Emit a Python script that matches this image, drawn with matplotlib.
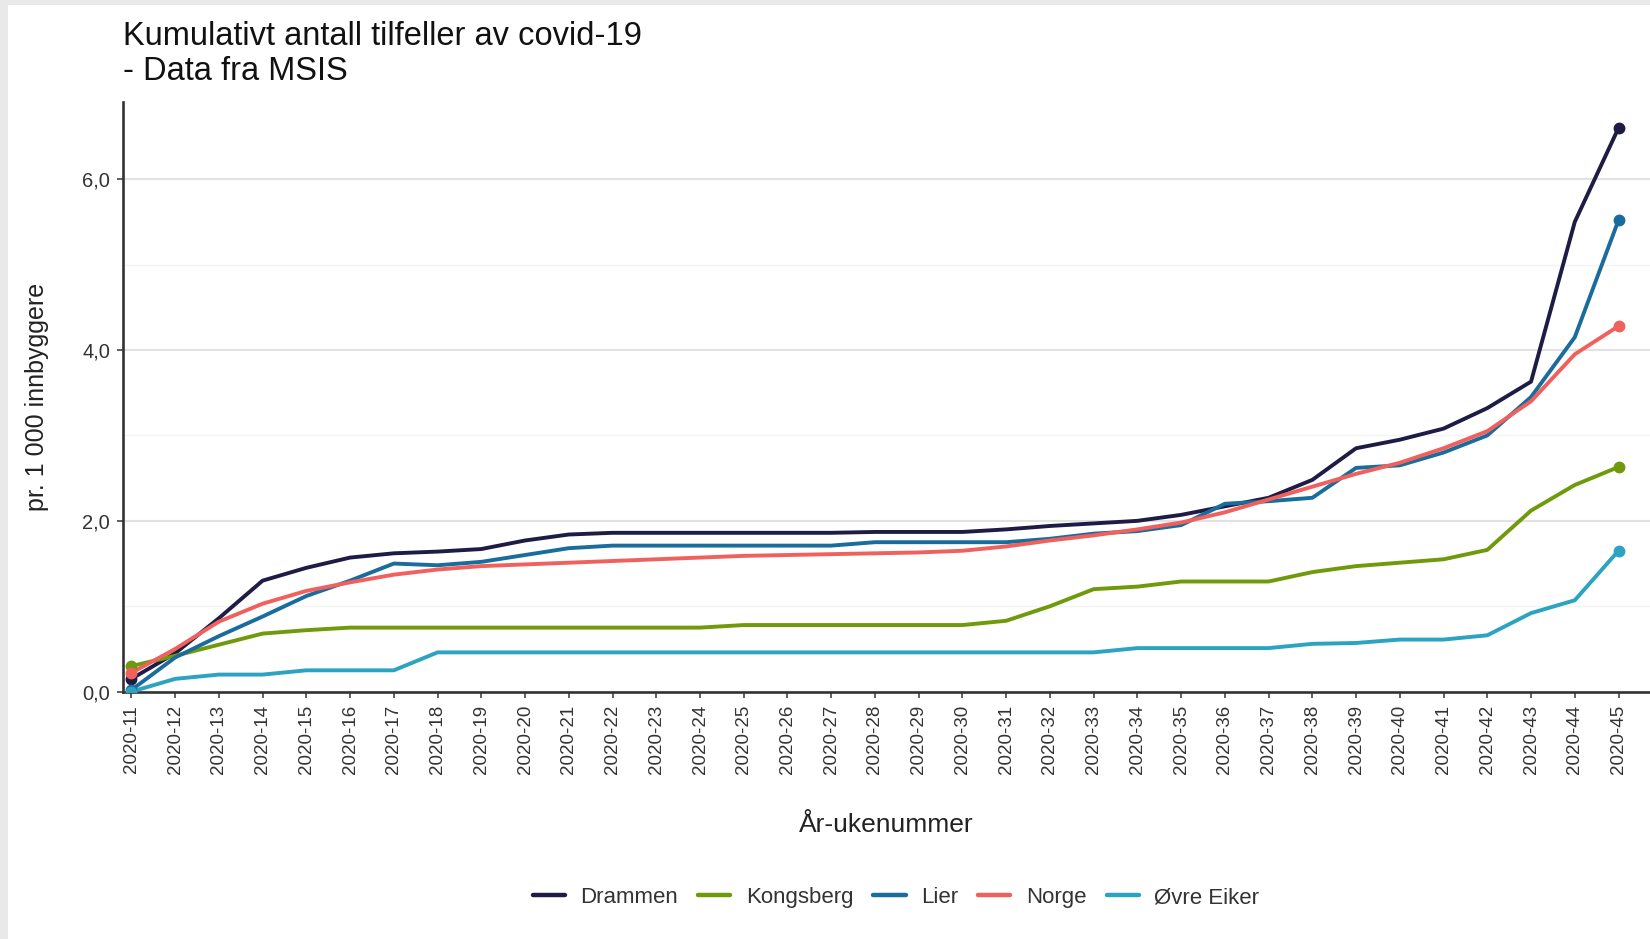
import matplotlib.pyplot as plt
from matplotlib.patches import Rectangle

plt.rcParams['font.family'] = ['Liberation Sans', 'DejaVu Sans']

# Data: cumulative cases per 1 000 inhabitants, week 11 to 45
weeks = [f"2020-{w}" for w in range(11, 46)]

drammen = [0.15, 0.45, 0.86, 1.30, 1.45, 1.57, 1.62, 1.64, 1.67, 1.77,
           1.84, 1.86, 1.86, 1.86, 1.86, 1.86, 1.86, 1.87, 1.87, 1.87,
           1.90, 1.94, 1.97, 2.00, 2.07, 2.17, 2.27, 2.48, 2.85, 2.95,
           3.08, 3.32, 3.63, 5.50, 6.60]
kongsberg = [0.30, 0.42, 0.55, 0.68, 0.72, 0.75, 0.75, 0.75, 0.75, 0.75,
             0.75, 0.75, 0.75, 0.75, 0.78, 0.78, 0.78, 0.78, 0.78, 0.78,
             0.83, 1.00, 1.20, 1.23, 1.29, 1.29, 1.29, 1.40, 1.47, 1.51,
             1.55, 1.66, 2.12, 2.42, 2.63]
lier = [0.02, 0.40, 0.65, 0.88, 1.12, 1.30, 1.50, 1.48, 1.52, 1.60,
        1.68, 1.71, 1.71, 1.71, 1.71, 1.71, 1.71, 1.75, 1.75, 1.75,
        1.75, 1.79, 1.85, 1.88, 1.95, 2.20, 2.23, 2.27, 2.62, 2.65,
        2.80, 3.00, 3.45, 4.15, 5.52]
norge = [0.22, 0.50, 0.82, 1.03, 1.18, 1.28, 1.37, 1.43, 1.47, 1.49,
         1.51, 1.53, 1.55, 1.57, 1.59, 1.60, 1.61, 1.62, 1.63, 1.65,
         1.70, 1.77, 1.83, 1.90, 1.98, 2.10, 2.25, 2.40, 2.55, 2.68,
         2.85, 3.05, 3.40, 3.95, 4.28]
ovre_eiker = [0.00, 0.15, 0.20, 0.20, 0.25, 0.25, 0.25, 0.46, 0.46, 0.46,
              0.46, 0.46, 0.46, 0.46, 0.46, 0.46, 0.46, 0.46, 0.46, 0.46,
              0.46, 0.46, 0.46, 0.51, 0.51, 0.51, 0.51, 0.56, 0.57, 0.61,
              0.61, 0.66, 0.92, 1.07, 1.65]

names = ["Drammen", "Kongsberg", "Lier", "Norge", "Øvre Eiker"]
series = [drammen, kongsberg, lier, norge, ovre_eiker]
colors = ["#1e1c45", "#6f9a0c", "#1a6c9c", "#f0605c", "#2ba3c1"]

fig = plt.figure(figsize=(16.5, 9.39), dpi=100)
fig.patch.set_facecolor("#e9e9e9")
fig.patches.append(Rectangle((0.0051, 0), 1, 0.9945, transform=fig.transFigure,
                             facecolor="white", edgecolor="none", zorder=-1))

ax = fig.add_axes([0.0746, 0.2634, 0.9254, 0.6276])
ax.set_facecolor("white")

x = list(range(len(weeks)))
for name, vals, c in zip(names, series, colors):
    ax.plot(x, vals, color=c, lw=2.8, label=name, solid_capstyle="round",
            solid_joinstyle="round", zorder=3)
    ax.plot([x[0], x[-1]], [vals[0], vals[-1]], 'o', color=c, ms=7.5, zorder=4)

ax.set_xlim(-0.19, len(weeks) - 1 + 0.72)
ax.set_ylim(0, 6.9)
ax.set_xticks(x)
ax.set_xticklabels(weeks, rotation=90, fontsize=13.5, color="#333333")
ax.set_yticks([0, 2, 4, 6])
ax.set_yticklabels(["0,0", "2,0", "4,0", "6,0"], fontsize=14.5, color="#333333")
ax.set_yticks([1, 3, 5], minor=True)
ax.tick_params(axis='both', which='major', length=4.5, width=1.2, color="#444444", pad=5)
ax.tick_params(axis='y', which='minor', length=0)

ax.grid(axis='y', which='major', color="#e2e2e2", lw=1.5)
ax.grid(axis='y', which='minor', color="#f4f4f4", lw=1.0)
ax.set_axisbelow(True)

for s in ["top", "right"]:
    ax.spines[s].set_visible(False)
for s in ["left", "bottom"]:
    ax.spines[s].set_color("#333333")
    ax.spines[s].set_linewidth(1.9)

ax.set_ylabel("pr. 1 000 innbyggere", fontsize=18, color="#222222", va="center")
ax.yaxis.set_label_coords(-0.0563, 0.5)
ax.set_xlabel("År-ukenummer", fontsize=19, color="#222222", va="center")
ax.xaxis.set_label_coords(0.5, -0.2258)

fig.text(0.0746, 0.952, "Kumulativt antall tilfeller av covid-19", fontsize=23.5,
         color="#111111", va="baseline")
fig.text(0.0746, 0.915, "- Data fra MSIS", fontsize=23.5, color="#111111", va="baseline")

leg = fig.legend(loc="center", bbox_to_anchor=(0.543, 0.044), ncol=5, frameon=False,
                 fontsize=16, handlelength=1.45, handletextpad=0.7, columnspacing=0.9,
                 labelcolor="#333333")
for h in leg.legend_handles:
    h.set_linewidth(3.2)

fig.savefig("out.png", dpi=100, facecolor=fig.get_facecolor())
